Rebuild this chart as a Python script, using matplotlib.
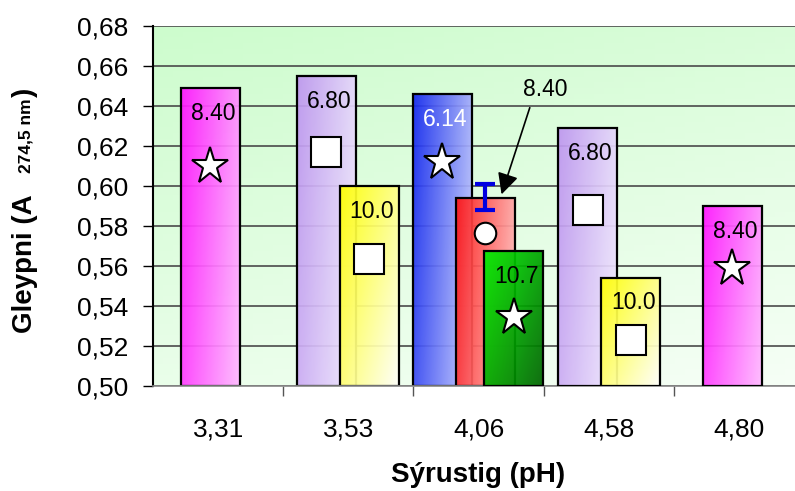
import matplotlib
matplotlib.use("Agg")
import matplotlib.pyplot as plt
import numpy as np

plt.rcParams["font.family"] = ["Liberation Sans", "DejaVu Sans"]

# data
categories = ["3,31", "3,53", "4,06", "4,58", "4,80"]
bar_cat = [0, 1, 1, 2, 2, 2, 3, 3, 4]
bar_values = [0.649, 0.655, 0.600, 0.646, 0.594, 0.5675, 0.629, 0.554, 0.590]
bar_labels = ["8.40", "6.80", "10.0", "6.14", "", "10.7", "6.80", "10.0", "8.40"]
marker_values = [0.610, 0.617, 0.5635, 0.612, 0.5765, 0.5347, 0.588, 0.523, 0.559]
marker_kinds = ["*", "s", "s", "*", "o", "*", "s", "s", "*"]
err_low, err_high = 0.588, 0.601
arrow_label = "8.40"

# layout / style
offsets = [-0.06, -0.17, 0.16, -0.28, 0.05, 0.27, -0.16, 0.17, -0.05]
width = 0.453
grads = {
    "magenta": ((255, 20, 255), (255, 185, 255), 0.75),
    "lavender": ((190, 150, 240), (242, 235, 255), 0.75),
    "yellow": ((255, 255, 0), (255, 255, 250), 0.55),
    "blue": ((20, 40, 240), (200, 205, 255), 0.8),
    "red": ((255, 20, 20), (255, 200, 200), 0.8),
    "green": ((0, 240, 0), (0, 100, 0), 0.55),
}
bar_colors = ["magenta", "lavender", "yellow", "blue", "red", "green",
              "lavender", "yellow", "magenta"]
marker_sizes = {"*": 28, "s": 21, "o": 15.5}
label_colors = ["black", "black", "black", "white", "black", "black",
                "black", "black", "black"]

YMIN, YMAX = 0.50, 0.68
XMIN, XMAX = -0.5, 4.43


def gradient(c1, c2, wu, n=64):
    u = np.linspace(0, 1, n)[None, :]
    v = np.linspace(0, 1, n)[:, None]
    t = wu * u + (1 - wu) * (1 - v)
    t = (t - t.min()) / (t.max() - t.min())
    c1 = np.array(c1) / 255
    c2 = np.array(c2) / 255
    return c1[None, None, :] * (1 - t[..., None]) + c2[None, None, :] * t[..., None]


fig = plt.figure(figsize=(7.95, 4.91), dpi=100)
ax = fig.add_axes([153 / 795, 1 - 386 / 491, 1 - 153 / 795, 360 / 491])

# background
bg = gradient((205, 252, 205), (246, 255, 246), 0.3)
ax.imshow(bg, extent=[XMIN, XMAX, YMIN, YMAX], origin="lower",
          aspect="auto", zorder=0)

yticks = np.arange(0.50, 0.6801, 0.02)
for yv in yticks:
    ax.axhline(yv, color="#4a4a4a", lw=1.2, zorder=1)

xs = [c + o for c, o in zip(bar_cat, offsets)]
for i, (x, val) in enumerate(zip(xs, bar_values)):
    c1, c2, wu = grads[bar_colors[i]]
    z = 2 + i * 0.1
    rect = ax.bar(x, val - YMIN, bottom=YMIN, width=width, facecolor="none",
                  edgecolor="black", lw=1.6, zorder=z + 0.05)[0]
    im = ax.imshow(gradient(c1, c2, wu), extent=[x - width / 2, x + width / 2, YMIN, val],
                   origin="lower", aspect="auto", alpha=0.93, zorder=z)
    im.set_clip_path(rect)
    ax.plot(x, marker_values[i], marker=marker_kinds[i], ms=marker_sizes[marker_kinds[i]],
            mfc="white", mec="black", mew=1.5, zorder=5)
    if bar_labels[i]:
        ax.annotate(bar_labels[i], (x + 0.02, val), xytext=(0, -18),
                    textcoords="offset points", ha="center", va="center",
                    fontsize=16.5, color=label_colors[i], zorder=6)

# error bar on the red bar
ax.errorbar(xs[4], (err_low + err_high) / 2, yerr=(err_high - err_low) / 2,
            fmt="none", ecolor="#0000e0", elinewidth=3, capsize=7, capthick=3, zorder=6)

# arrow annotation
ax.annotate("", xy=(2.17, 0.5945), xytext=(2.4, 0.6405),
            arrowprops=dict(arrowstyle="-|>", color="black", lw=1.2, mutation_scale=32),
            zorder=7)
ax.text(2.515, 0.6485, arrow_label, ha="center", va="center", fontsize=16.5, zorder=7)

ax.set_xlim(XMIN, XMAX)
ax.set_ylim(YMIN, YMAX)

ax.set_yticks(yticks)
ax.set_yticklabels([f"{v:.2f}".replace(".", ",") for v in yticks], fontsize=19)
ax.tick_params(axis="y", length=7, width=1, pad=11)

ax.set_xticks(np.arange(0.5, 4.5, 1.0))
ax.set_xticklabels([])
ax.set_xticks(np.arange(len(categories)), minor=True)
ax.set_xticklabels(categories, minor=True, fontsize=19)
ax.tick_params(axis="x", which="major", length=7, width=1, color="#555555")
ax.tick_params(axis="x", which="minor", length=0, pad=23)

for s in ["top", "right"]:
    ax.spines[s].set_visible(False)
ax.spines["left"].set_color("black")
ax.spines["left"].set_linewidth(1.5)
ax.spines["bottom"].set_color("#888888")
ax.spines["bottom"].set_linewidth(1.2)

ax.set_xlabel("Sýrustig (pH)", fontsize=20, fontweight="bold")
ax.xaxis.set_label_coords(0.506, -0.21)

# y label with small subscript part
fig.text(24.5 / 795, 1 - 333 / 491, "Gleypni (A", rotation=90, ha="center", va="bottom",
         fontsize=20, fontweight="bold")
fig.text(26 / 795, 1 - 173 / 491, "274,5 nm", rotation=90, ha="center", va="bottom",
         fontsize=12.5, fontweight="bold")
fig.text(24.5 / 795, 1 - 97 / 491, ")", rotation=90, ha="center", va="bottom",
         fontsize=20, fontweight="bold")

fig.savefig("out.png", dpi=100)
